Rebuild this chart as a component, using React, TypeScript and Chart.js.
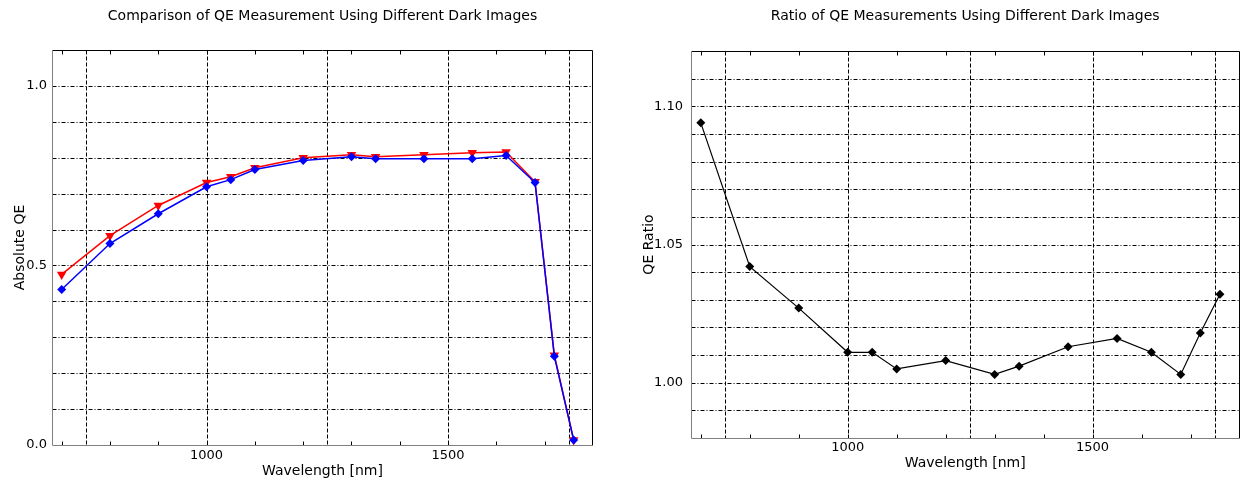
import React, { useEffect, useRef } from "react";
import { Chart, registerables } from "chart.js";

Chart.register(...registerables);

// ---- data ----
const wavelengths = [700, 800, 900, 1000, 1050, 1100, 1200, 1300, 1350, 1450, 1550, 1620, 1680, 1720, 1760];
const qeDarkA = [0.433, 0.561, 0.644, 0.719, 0.739, 0.767, 0.792, 0.803, 0.797, 0.797, 0.797, 0.806, 0.731, 0.247, 0.014];
const qeDarkB = [0.475, 0.583, 0.667, 0.731, 0.747, 0.772, 0.8, 0.808, 0.803, 0.808, 0.814, 0.816, 0.733, 0.25, 0.014];
const qeRatio = [1.094, 1.042, 1.027, 1.011, 1.011, 1.005, 1.008, 1.003, 1.006, 1.013, 1.016, 1.011, 1.003, 1.018, 1.032];

// ---- axes / ticks ----
const xRange = [680, 1800];
const xLabelTicks = [1000, 1500];
const xGridValues = [750, 1000, 1250, 1500, 1750];
const xMinorTicks = [700, 800, 900, 1000, 1100, 1200, 1300, 1400, 1500, 1600, 1700];
const leftYRange = [0, 1.1];
const leftYLabelTicks = [0, 0.5, 1.0];
const leftYGrid = [0.1, 0.2, 0.3, 0.4, 0.5, 0.6, 0.7, 0.8, 0.9, 1.0];
const rightYRange = [0.98, 1.12];
const rightYLabelTicks = [1.0, 1.05, 1.1];
const rightYGrid = [0.99, 1.0, 1.01, 1.02, 1.03, 1.04, 1.05, 1.06, 1.07, 1.08, 1.09, 1.1, 1.11];

const FONT = "'DejaVu Sans', 'Liberation Sans', sans-serif";

function framePlugin(xGrid: number[], yGrid: number[], xMinor: number[]) {
  return {
    id: "idlFrame",
    beforeDatasetsDraw(chart: any) {
      const { ctx, chartArea: a, scales } = chart;
      const x = scales.x;
      const y = scales.y;
      const L = Math.round(a.left) + 0.5;
      const R = Math.round(a.right) - 0.5;
      const T = Math.round(a.top) + 0.5;
      const B = Math.round(a.bottom) + 0.5;
      ctx.save();
      ctx.lineWidth = 1;
      ctx.strokeStyle = "#000";
      ctx.setLineDash([4, 2]);
      for (const v of xGrid) {
        const px = Math.round(x.getPixelForValue(v)) + 0.5;
        ctx.beginPath();
        ctx.moveTo(px, T);
        ctx.lineTo(px, B);
        ctx.stroke();
      }
      ctx.setLineDash([4, 2, 1, 2]);
      for (const v of yGrid) {
        const py = Math.round(y.getPixelForValue(v)) + 0.5;
        ctx.beginPath();
        ctx.moveTo(L, py);
        ctx.lineTo(R, py);
        ctx.stroke();
      }
      ctx.setLineDash([]);
      for (const v of xMinor) {
        const px = Math.round(x.getPixelForValue(v)) + 0.5;
        ctx.beginPath();
        ctx.moveTo(px, B);
        ctx.lineTo(px, B - 4);
        ctx.moveTo(px, T);
        ctx.lineTo(px, T + 4);
        ctx.stroke();
      }
      ctx.strokeStyle = "#000";
      ctx.beginPath();
      ctx.moveTo(L, T);
      ctx.lineTo(R, T);
      ctx.lineTo(R, B);
      ctx.stroke();
      ctx.strokeStyle = "#808080";
      ctx.beginPath();
      ctx.moveTo(L, T);
      ctx.lineTo(L, B);
      ctx.lineTo(R, B);
      ctx.stroke();
      ctx.restore();
    },
  };
}

function makeConfig(opts: any) {
  const {
    datasets,
    title,
    yTitle,
    yRange,
    yLabelTicks,
    yDecimals,
    yWidth,
    xHeight,
    padRight,
    titlePad,
    yTitlePad,
    xTitlePad,
    yTickPad,
    xTickPad,
    yGrid,
  } = opts;
  return {
    type: "line",
    data: { datasets },
    options: {
      animation: false,
      responsive: false,
      maintainAspectRatio: false,
      layout: { padding: { left: 0, right: padRight, top: 0, bottom: 0 } },
      plugins: {
        legend: { display: false },
        tooltip: { enabled: false },
        title: {
          display: true,
          text: title,
          fullSize: false,
          color: "#000",
          font: { family: FONT, size: 14, weight: "normal" },
          padding: titlePad,
        },
      },
      scales: {
        x: {
          type: "linear",
          min: xRange[0],
          max: xRange[1],
          grid: { display: false, drawTicks: false },
          border: { display: false },
          afterBuildTicks: (s: any) => {
            s.ticks = xLabelTicks.map((v) => ({ value: v }));
          },
          afterFit: (s: any) => {
            s.height = xHeight;
          },
          ticks: {
            color: "#000",
            padding: xTickPad,
            maxRotation: 0,
            autoSkip: false,
            font: { family: FONT, size: 13 },
            callback: (v: any) => String(v),
          },
          title: {
            display: true,
            text: "Wavelength [nm]",
            color: "#000",
            font: { family: FONT, size: 14 },
            padding: { top: 0, bottom: xTitlePad },
          },
        },
        y: {
          type: "linear",
          min: yRange[0],
          max: yRange[1],
          grid: { display: false, drawTicks: false },
          border: { display: false },
          afterBuildTicks: (s: any) => {
            s.ticks = yLabelTicks.map((v: number) => ({ value: v }));
          },
          afterFit: (s: any) => {
            s.width = yWidth;
          },
          ticks: {
            color: "#000",
            padding: yTickPad,
            autoSkip: false,
            font: { family: FONT, size: 13 },
            callback: (v: any) => Number(v).toFixed(yDecimals),
          },
          title: {
            display: true,
            text: yTitle,
            color: "#000",
            font: { family: FONT, size: 14 },
            padding: { top: yTitlePad, bottom: 0 },
          },
        },
      },
    },
    plugins: [framePlugin(xGridValues, yGrid, xMinorTicks)],
  };
}

function toPoints(ys: number[]) {
  return wavelengths.map((w, i) => ({ x: w, y: ys[i] }));
}

function ChartCanvas({ config, width, height, left }: any) {
  const ref = useRef<HTMLCanvasElement | null>(null);
  useEffect(() => {
    if (!ref.current) return;
    const chart = new Chart(ref.current, config());
    return () => chart.destroy();
  }, []);
  return (
    <canvas
      ref={ref}
      width={width}
      height={height}
      style={{ position: "absolute", left, top: 0, width, height }}
    />
  );
}

export default function App() {
  const leftConfig = () =>
    makeConfig({
      datasets: [
        {
          label: "Dark A",
          data: toPoints(qeDarkA),
          borderColor: "#0000ff",
          backgroundColor: "#0000ff",
          borderWidth: 1.5,
          pointStyle: "rectRot",
          pointRadius: 4.5,
          pointBorderWidth: 0,
          tension: 0,
        },
        {
          label: "Dark B",
          data: toPoints(qeDarkB),
          borderColor: "#ff0000",
          backgroundColor: "#ff0000",
          borderWidth: 1.5,
          pointStyle: "triangle",
          rotation: 180,
          pointRadius: 5.5,
          pointBorderWidth: 0,
          tension: 0,
        },
      ],
      title: "Comparison of QE Measurement Using Different Dark Images",
      yTitle: "Absolute QE",
      yRange: leftYRange,
      yLabelTicks: leftYLabelTicks,
      yDecimals: 1,
      yWidth: 52,
      xHeight: 35,
      padRight: 27,
      titlePad: { top: 7.6, bottom: 25.6 },
      yTitlePad: 11.6,
      xTitlePad: 0,
      yTickPad: 5,
      xTickPad: 3,
      yGrid: leftYGrid,
    });
  const rightConfig = () =>
    makeConfig({
      datasets: [
        {
          label: "Ratio",
          data: toPoints(qeRatio),
          borderColor: "#000",
          backgroundColor: "#000",
          borderWidth: 1.2,
          pointStyle: "rectRot",
          pointRadius: 4.5,
          pointBorderWidth: 0,
          tension: 0,
        },
      ],
      title: "Ratio of QE Measurements Using Different Dark Images",
      yTitle: "QE Ratio",
      yRange: rightYRange,
      yLabelTicks: rightYLabelTicks,
      yDecimals: 2,
      yWidth: 71,
      xHeight: 42,
      padRight: 2,
      titlePad: { top: 7.6, bottom: 26.6 },
      yTitlePad: 20.6,
      xTitlePad: 8.6,
      yTickPad: 8,
      xTickPad: 2,
      yGrid: rightYGrid,
    });
  return (
    <div style={{ position: "absolute", left: 0, top: 0, width: 1244, height: 480, background: "#fff" }}>
      <ChartCanvas config={leftConfig} width={620} height={480} left={0} />
      <ChartCanvas config={rightConfig} width={624} height={480} left={620} />
    </div>
  );
}
